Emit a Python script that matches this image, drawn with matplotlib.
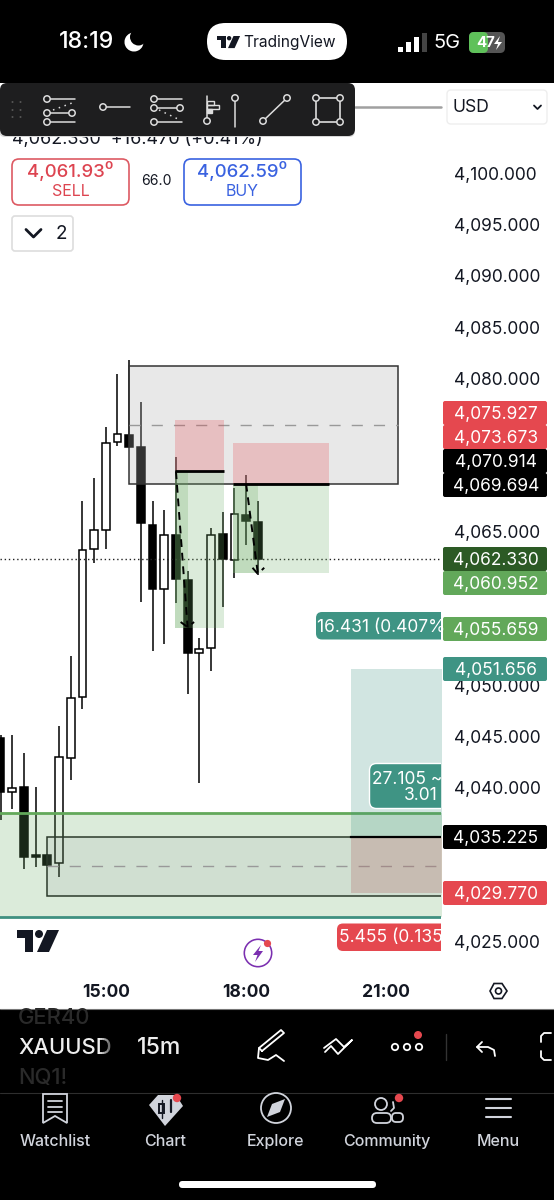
import numpy as np
import matplotlib
matplotlib.use('Agg')
import matplotlib.pyplot as plt
from matplotlib.patches import FancyBboxPatch, Rectangle, Circle, Polygon, Wedge

plt.rcParams['font.family'] = ['Inter', 'DejaVu Sans']

# velas de 15m, indice 0 = 15:00
bar_idx = np.arange(-9, 14)
opens = [4044.87, 4039.63, 4040.09, 4033.42, 4033.45, 4032.66, 4042.89, 4048.88, 4063.30, 4065.18, 4073.78, 4074.49,
         4073.26, 4065.67, 4059.45, 4064.67, 4060.27, 4053.20, 4053.63, 4064.76, 4062.28, 4066.65, 4066.00]
closes = [4039.60, 4040.02, 4033.28, 4033.25, 4032.47, 4043.02, 4048.81, 4063.23, 4065.18, 4073.71, 4074.56, 4073.32,
          4065.87, 4059.45, 4064.67, 4060.40, 4053.14, 4053.56, 4064.70, 4062.32, 4066.78, 4066.06, 4062.33]
highs = [4045.16, 4045.16, 4043.41, 4040.09, 4033.55, 4046.07, 4052.88, 4068.05, 4070.29, 4075.24, 4080.42, 4081.79,
         4077.66, 4068.02, 4067.14, 4072.28, 4061.21, 4054.61, 4065.41, 4066.91, 4069.26, 4070.56, 4068.05]
lows = [4036.86, 4037.94, 4032.11, 4032.30, 4032.37, 4031.30, 4040.74, 4047.73, 4061.93, 4063.33, 4073.39, 4073.32,
        4058.18, 4053.40, 4054.05, 4058.08, 4049.17, 4040.51, 4051.41, 4057.69, 4060.47, 4063.72, 4060.79]

last_price = 4062.33
# os outros ticks ficam escondidos atras das etiquetas no original
axis_ticks = [4025, 4040, 4045, 4050, 4065, 4080, 4085, 4090, 4095, 4100]
time_ticks = [0, 12, 24]
time_labels = ['15:00', '18:00', '21:00']

# zonas: (bar inicio, bar fim, preco baixo, preco alto)
gray_box = (2, 25, 4069.694, 4081.25)
gray_mid = 4075.47
low_box = (-5, 30, 4029.41, 4035.225)
low_mid = 4032.34
green_band = (-10, 30, 4027.36, 4037.57)
short_1 = (5.95, 10.1, 4055.659, 4070.914, 4075.927)
short_1_strip = (5.95, 7)
short_2 = (10.9, 19.1, 4060.952, 4069.694, 4073.673)
short_2_strip = (10.9, 13)
long_pos = (21, 30, 4029.77, 4035.225, 4051.656)

# etiquetas da escala de precos: texto, centro em px, cor
tag_texts = ['4,075.927', '4,073.673', '4,070.914', '4,069.694', '4,062.330', '4,060.952', '4,055.659', '4,051.656',
             '4,035.225', '4,029.770']
tag_px = [413, 437, 461, 485, 559, 583, 629, 669, 837, 893]
tag_cols = ['#e5484f', '#e5484f', '#000000', '#000000', '#2c5a25', '#62a85a', '#62a85a', '#3f9484', '#000000', '#e5484f']

GREEN = '#6aaa62'
TEAL = '#3f9484'
RED = '#e5484f'

fig = plt.figure(figsize=(5.54, 12), dpi=100, facecolor='white')

# grafico principal
ax = fig.add_axes([0, (1200 - 980) / 1200, 441 / 554, (980 - 83) / 1200], zorder=1)
ax.set_xlim(-9.05, 28.67)
ax.set_ylim(4021.24, 4108.84)
for s in ax.spines.values():
    s.set_visible(False)
ax.yaxis.tick_right()
ax.set_yticks(axis_ticks)
ax.set_yticklabels([f'{t:,.3f}' for t in axis_ticks], fontsize=12.5, color='#131722')
ax.set_xticks(time_ticks)
ax.set_xticklabels(time_labels, fontsize=12.6, fontweight='bold', color='#131722')
ax.tick_params(axis='both', length=0)
ax.tick_params(axis='y', pad=9.4)
ax.tick_params(axis='x', pad=3)

ax.vlines(bar_idx, lows, highs, color='black', lw=1.1, zorder=2)
o = np.array(opens)
c = np.array(closes)
up = c >= o
ax.bar(bar_idx, np.abs(c - o), bottom=np.minimum(o, c), width=0.66, color=np.where(up, 'white', 'black'),
       edgecolor='black', lw=1.1, zorder=2.5)

ax.axhline(last_price, color='#222222', lw=1, ls=(0, (1, 2)), zorder=2.7)

# faixa verde
ax.fill_between(green_band[:2], green_band[2], green_band[3], color=GREEN, alpha=0.235, lw=0, zorder=3)
ax.axhline(green_band[3], color='#62a85a', lw=2, zorder=3.1)
ax.axhline(green_band[2], color='#3f9080', lw=2, zorder=3.1)

# caixa cinza de cima
ax.add_patch(Rectangle((gray_box[0], gray_box[2]), gray_box[1] - gray_box[0], gray_box[3] - gray_box[2],
                       fc=(178 / 255, 178 / 255, 178 / 255, 0.286), ec='#333333', lw=1.1, zorder=3))
ax.plot(gray_box[:2], [gray_mid, gray_mid], color='#999999', lw=1, ls=(0, (8, 8)), zorder=3.2)

# caixa de baixo
ax.add_patch(Rectangle((low_box[0], low_box[2]), low_box[1] - low_box[0], low_box[3] - low_box[2],
                       fc=(120 / 255, 123 / 255, 134 / 255, 0.10), ec='#2b3a2b', lw=1.1, zorder=3.2))
ax.plot(low_box[:2], [low_mid, low_mid], color='#999999', lw=1, ls=(0, (8, 8)), zorder=3.3)

# posicoes short
for pos, strip in [(short_1, short_1_strip), (short_2, short_2_strip)]:
    x0, x1, tp, entry, sl = pos
    ax.fill_between([x0, x1], tp, entry, color=GREEN, alpha=0.235, lw=0, zorder=3.4)
    ax.fill_between([x0, x1], entry, sl, color=RED, alpha=0.25, lw=0, zorder=3.4)
    ax.fill_between(strip, tp, entry, color=GREEN, alpha=0.235, lw=0, zorder=3.5)
    ax.plot([x0, x1], [entry, entry], color='black', lw=2, zorder=4, solid_capstyle='butt')

# posicao long
x0, x1, sl, entry, tp = long_pos
ax.fill_between([x0, x1], entry, tp, color=TEAL, alpha=0.24, lw=0, zorder=3.4)
ax.fill_between([x0, x1], sl, entry, color=(180 / 255, 110 / 255, 107 / 255), alpha=0.3, lw=0, zorder=3.4)
ax.plot([x0, x1], [entry, entry], color='black', lw=1.6, zorder=4)

# setas tracejadas
dash = dict(color='black', lw=1.4, ls=(0, (4, 3)), zorder=4)
ax.plot([6, 7], [4070.914, 4055.659], **dash)
ax.plot([6.4, 7, 7.55], [4056.2, 4055.7, 4056.2], **dash)
ax.plot([12, 13], [4069.694, 4060.952], **dash)
ax.plot([12.55, 13, 13.55], [4061.5, 4060.9, 4061.5], **dash)

# camada da interface, em pixels
ui = fig.add_axes([0, 0, 1, 1], zorder=5)
ui.set_xlim(0, 554)
ui.set_ylim(1200, 0)
ui.axis('off')
ui.patch.set_alpha(0)


def rbox(x0, y0, x1, y1, r=4, fc='white', ec='none', lw=1, z=5, clip=False):
    p = FancyBboxPatch((x0 + r, y0 + r), x1 - x0 - 2 * r, y1 - y0 - 2 * r, boxstyle=f'round,pad={r},rounding_size={r}',
                       fc=fc, ec=ec, lw=lw, zorder=z)
    ui.add_patch(p)
    if clip:
        p.set_clip_path(Rectangle((0, 0), 441, 1200, transform=ui.transData))
    return p


def txt(x, y, s, size=16, color='black', ha='center', weight='normal', z=6, clip=False):
    t = ui.text(x, y, s, fontsize=size * 0.72, color=color, ha=ha, va='center', fontweight=weight, zorder=z)
    if clip:
        t.set_clip_path(Rectangle((0, 0), 441, 1200, transform=ui.transData))
    return t


def line(xs, ys, color='#dddddd', lw=1.1, z=7, **kw):
    ui.plot(xs, ys, color=color, lw=lw, zorder=z, solid_capstyle='round', **kw)


def ring(x, y, r=3.2, ec='#dddddd', fc='#1e1e1f', lw=1.1, z=8):
    ui.add_patch(Circle((x, y), r, fc=fc, ec=ec, lw=lw, zorder=z))


def tv_logo(x, y, k, color):
    ui.add_patch(Polygon([(x, y), (x + 16 * k, y), (x + 16 * k, y + 22 * k), (x + 8 * k, y + 22 * k), (x + 8 * k, y + 8 * k),
                          (x, y + 8 * k)], fc=color, ec='none', zorder=7))
    ui.add_patch(Circle((x + 22 * k, y + 4 * k), 4 * k, fc=color, ec='none', zorder=7))
    ui.add_patch(Polygon([(x + 30 * k, y), (x + 42 * k, y), (x + 32 * k, y + 22 * k), (x + 20 * k, y + 22 * k)], fc=color,
                         ec='none', zorder=7))


# etiquetas de preco
for label, py, col in zip(tag_texts, tag_px, tag_cols):
    rbox(443, py - 12, 547, py + 12, r=2, fc=col)
    txt(496, py + 1.5, label, size=17.4, color='white')

# baloes recortados na borda do grafico
rbox(316, 612, 460, 639.5, r=6, fc=TEAL, clip=True)
txt(317, 628, '16.431 (0.407%', size=17.4, color='white', ha='left', clip=True)
rbox(369.5, 763.5, 460, 808.5, r=7, fc=TEAL, ec='white', lw=1, clip=True)
txt(372, 779, '27.105 ~', size=17.4, color='white', ha='left', clip=True)
txt(438, 796, '3.01', size=17.4, color='white', ha='right', clip=True)
rbox(337, 923.5, 460, 951, r=6, fc=RED, clip=True)
txt(339, 938, '5.455 (0.135', size=17.4, color='white', ha='left', clip=True)

# logo e raio
tv_logo(17, 930, 1, '#131722')
ui.add_patch(Wedge((258, 953), 14.5, 0, 360, width=1.6, fc='#7b2fb0', ec='none', zorder=6))
ui.add_patch(Polygon([(261, 945), (253, 955), (257.5, 955), (255, 962), (263, 951), (258.5, 951)], fc='#7b2fb0', zorder=7))
ui.add_patch(Circle((267.5, 943.5), 3.6, fc=RED, ec='none', zorder=8))

# cabecalho e botoes
txt(12, 139, '4,062.330  +16.470 (+0.41%)', size=18, color='#131722', ha='left', z=5.2)
rbox(12, 159, 129, 205, r=7, fc='white', ec='#dd5a63', lw=1.2)
txt(70, 171, '4,061.93⁰', size=18.6, color='#dd4450', weight='medium')
txt(71, 192, 'SELL', size=16, color='#dd4450')
txt(156, 181, '66.0', size=14, color='#131722')
rbox(184, 159, 301, 205, r=7, fc='white', ec='#3a62e0', lw=1.2)
txt(242, 171, '4,062.59⁰', size=18.6, color='#3a62e0', weight='medium')
txt(242, 192, 'BUY', size=16, color='#3a62e0')
rbox(12, 216, 73, 251, r=3, fc='white', ec='#dddddd', lw=1.2)
line([26, 33.5, 41], [229.5, 237, 229.5], color='#131722', lw=2)
txt(61, 234, '2', size=19, color='#131722')
rbox(447, 90, 547, 124, r=4, fc='white', ec='#eeeeee', lw=1)
txt(453, 107, 'USD', size=17.5, color='#131722', ha='left')
line([534, 537.5, 541], [105.5, 109, 105.5], color='#131722', lw=1.3)
line([355, 441], [107, 107], color='#a0a0a0', lw=1.8, z=4)

# barra de ferramentas
rbox(-1, 92, 355, 137, r=6, fc='#d8d8d8', ec='none', z=5.4)
rbox(0, 83, 355, 136, r=7, fc='#1e1e1f', z=5.5)
for dx in (12.5, 20.5):
    for dy in (102, 110, 117):
        ui.add_patch(Circle((dx, dy), 1, fc='#555555', ec='none', zorder=7))
line([50, 75], [99, 99])
line([50, 70], [113, 113])
line([50, 75], [122, 122])
line([53, 72], [110, 103], ls=(0, (1, 3)))
for p in [(47, 99), (47, 113), (72, 113), (47, 122)]:
    ring(*p)
line([106, 130], [107, 107])
ring(103, 107)
line([157, 182], [99, 99])
line([157, 177], [108, 108])
line([157, 182], [122, 122])
line([159, 180], [110, 120], ls=(0, (1, 3)))
for p in [(154, 99), (154, 108), (180, 108), (154, 122)]:
    ring(*p)
line([207, 207], [96, 118])
ui.add_patch(Rectangle((207, 105), 12, 4, fc='none', ec='#dddddd', lw=1, zorder=7))
ui.add_patch(Rectangle((207, 101), 7, 4, fc='none', ec='#dddddd', lw=1, zorder=7))
ui.add_patch(Rectangle((207, 109), 5, 4, fc='#dddddd', ec='#dddddd', lw=1, zorder=7))
ring(207, 121)
line([235, 235], [101, 127])
ring(235, 98)
line([263, 287], [121, 98])
ring(263, 121)
ring(287, 98)
ui.add_patch(Rectangle((316, 98), 24, 24, fc='none', ec='#dddddd', lw=1.2, zorder=7))
for p in [(316, 98), (340, 98), (316, 122), (340, 122)]:
    ring(*p)

# barra de status
ui.add_patch(Rectangle((0, 0), 554, 83, fc='black', ec='none', zorder=5.3))
txt(87, 42, '18:19', size=23, color='white', weight='medium')
ui.add_patch(Wedge((134, 42), 9.5, 0, 360, fc='white', ec='none', zorder=7))
ui.add_patch(Circle((138.5, 37), 8.5, fc='black', ec='none', zorder=7.5))
rbox(207, 23, 347, 60, r=18.5, fc='white', z=6)
tv_logo(217, 36, 0.55, '#131722')
txt(290, 42, 'TradingView', size=15.5, color='#131722')
for bx, bt, col in [(398, 47, 'white'), (406, 42, 'white'), (414, 37, 'white'), (422, 33, '#444444')]:
    ui.add_patch(Rectangle((bx, bt), 4.5, 52 - bt, fc=col, ec='none', zorder=7))
txt(447, 43, '5G', size=20, color='white')
rbox(469, 32, 505, 53, r=5, fc='#555555', z=6)
rbox(469, 32, 488, 53, r=5, fc='#5fc15a', z=6.2)
txt(486, 43, '47', size=15, color='white', weight='bold', z=7)
ui.add_patch(Polygon([(500, 36), (494, 44), (498, 44), (496, 50), (502, 42), (498, 42)], fc='white', zorder=7))

# eixo de tempo e painel de baixo
ui.add_patch(Polygon([(490, 991), (494, 983.5), (502, 983.5), (507, 991), (502, 998.5), (494, 998.5)], fc='none',
                     ec='#131722', lw=1.2, zorder=6))
ui.add_patch(Circle((498.5, 991), 3, fc='none', ec='#131722', lw=1.2, zorder=6))
ui.add_patch(Rectangle((0, 1009), 554, 191, fc='black', ec='none', zorder=5.1))
line([0, 554], [1009, 1009], color='#777777', lw=0.8, z=5.2)
line([0, 554], [1093, 1093], color='#2e2e2e', lw=0.8, z=5.2)
txt(18, 1018, 'GER40', size=22, color='#2a2a2a', ha='left', weight='medium', z=5.5)
txt(18, 1078, 'NQ1!', size=22, color='#2a2a2a', ha='left', weight='medium', z=5.5)
txt(18, 1048, 'XAUUSD', size=22, color='#eeeeee', ha='left', weight='medium')
for i in range(8):
    ui.add_patch(Rectangle((100 + i * 2, 1035), 2, 24, fc='black', alpha=0.12 + i * 0.1, ec='none', zorder=6.5))
txt(159, 1048, '15m', size=23, color='#eeeeee', weight='medium')

# icones da barra preta
line([262, 284, 281, 259, 262], [1051, 1033, 1030, 1048, 1051], color='white', lw=1.3)
line([259, 258, 268, 276, 284], [1048, 1058, 1060, 1055, 1061], color='white', lw=1.3)
line([324, 336, 344, 352, 338, 331, 325], [1048, 1039, 1047, 1040, 1054, 1046, 1052], color='white', lw=1.3)
for cx in (395, 407, 419):
    ui.add_patch(Circle((cx, 1047), 3.2, fc='none', ec='white', lw=1.3, zorder=7))
ui.add_patch(Circle((418, 1035), 4, fc=RED, ec='none', zorder=8))
line([446, 446], [1034, 1060], color='#333333', lw=1)
line([482, 477, 482], [1042, 1047, 1052], color='white', lw=1.3)
line([477, 488, 494, 495], [1047, 1047, 1050, 1056], color='white', lw=1.3)
line([551, 544, 541, 541], [1033, 1033, 1036, 1042], color='white', lw=1.3)
line([541, 541, 544, 551], [1051, 1057, 1060, 1060], color='white', lw=1.3)

# navegacao
nav_x = [55.5, 165, 276, 387, 498]
nav_labels = ['Watchlist', 'Chart', 'Explore', 'Community', 'Menu']
for nx, nl in zip(nav_x, nav_labels):
    txt(nx, 1141.5, nl, size=16, color='#d1d4dc', weight='medium')
ui.add_patch(Polygon([(43, 1094), (67, 1094), (67, 1123), (55, 1116), (43, 1123)], fc='none', ec='#d1d4dc', lw=1.3, zorder=7))
for ly in (1101, 1106.5, 1112):
    line([48, 62], [ly, ly], color='#d1d4dc', lw=1.3)
ui.add_patch(Polygon([(149, 1105), (158, 1095), (176, 1095), (183, 1106), (165, 1126)], fc='#d1d4dc', ec='none', zorder=7))
ui.add_patch(Rectangle((159, 1104), 5, 9, fc='none', ec='#131722', lw=1.4, zorder=8))
line([161.5, 161.5], [1100, 1118], color='#131722', lw=1, z=8)
line([171, 171], [1100, 1112], color='#131722', lw=1.6, z=8)
ui.add_patch(Circle((177, 1098), 4.2, fc=RED, ec='none', zorder=9))
ui.add_patch(Circle((276, 1108), 15, fc='none', ec='#d1d4dc', lw=1.3, zorder=7))
ui.add_patch(Polygon([(285, 1099), (280, 1112), (267, 1117), (272, 1104)], fc='#d1d4dc', ec='none', zorder=7))
ui.add_patch(Circle((381, 1104), 6, fc='none', ec='#d1d4dc', lw=1.3, zorder=7))
rbox(372, 1113, 391, 1123, r=5, fc='none', ec='#d1d4dc', lw=1.3, z=7)
line([393, 394, 391], [1102, 1108, 1111], color='#d1d4dc', lw=1.3)
rbox(392, 1113, 403, 1122, r=4, fc='none', ec='#d1d4dc', lw=1.3, z=7)
ui.add_patch(Circle((399, 1098), 4.2, fc=RED, ec='none', zorder=9))
for ly in (1099, 1108, 1117):
    line([486, 511], [ly, ly], color='#d1d4dc', lw=1.5)
rbox(179, 1181, 376, 1188, r=3.5, fc='white', z=7)

fig.savefig('out.png', dpi=100, facecolor='white')
